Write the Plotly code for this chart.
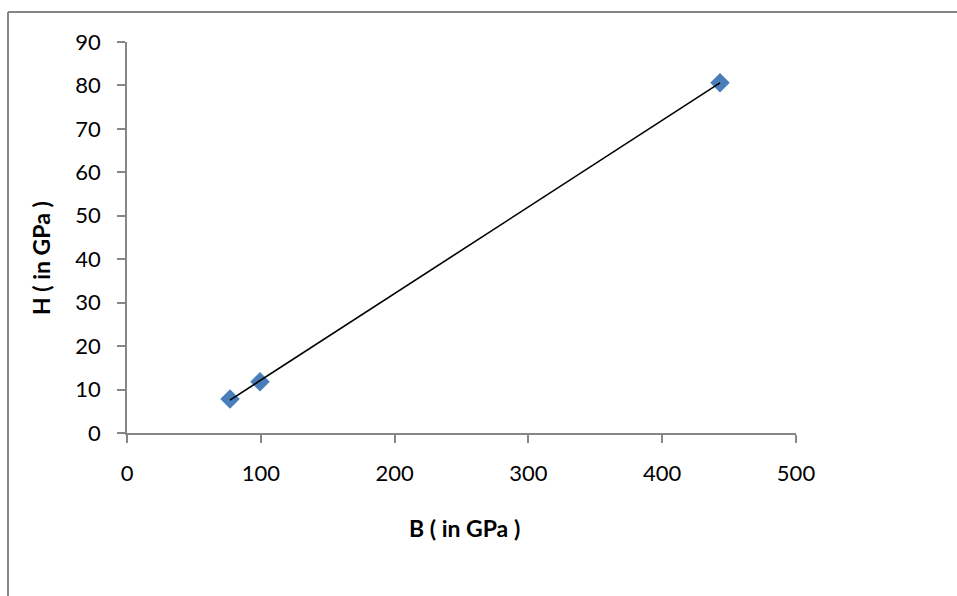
import numpy as np
import plotly.graph_objects as go

# Data
B_values = [77, 99.4, 443.2]     # B (in GPa)
H_values = [7.8, 11.8, 80.6]     # H (in GPa)

x_ticks = [0, 100, 200, 300, 400, 500]
y_ticks = [0, 10, 20, 30, 40, 50, 60, 70, 80, 90]

x_title = "B ( in GPa )"
y_title = "H ( in GPa )"

# Linear trendline over the data range
slope, intercept = np.polyfit(B_values, H_values, 1)
trend_x = [min(B_values), max(B_values)]
trend_y = [slope * v + intercept for v in trend_x]

W, H = 957, 596
L, R, T, Bm = 127, 161, 42, 163
pw, ph = W - L - R, H - T - Bm

FONT = "Lato, Open Sans, sans-serif"

fig = go.Figure()
fig.add_trace(go.Scatter(
    x=B_values, y=H_values, mode="markers",
    marker=dict(symbol="diamond", size=15, color="#4A7EBB",
                line=dict(width=0)),
    showlegend=False, hoverinfo="skip"))
fig.add_trace(go.Scatter(
    x=trend_x, y=trend_y, mode="lines",
    line=dict(color="black", width=1.6),
    showlegend=False, hoverinfo="skip"))

axis_common = dict(
    showgrid=False, zeroline=False, showline=True,
    linecolor="#868686", linewidth=1.5,
    ticks="outside", ticklen=8, tickwidth=1.5, tickcolor="#868686",
    tickfont=dict(family=FONT, size=22, color="black"),
)

fig.update_layout(
    width=W, height=H,
    margin=dict(l=L, r=R, t=T, b=Bm, autoexpand=False),
    paper_bgcolor="white", plot_bgcolor="white",
    xaxis=dict(range=[0, 500], tickvals=x_ticks, ticklabelstandoff=12,
               **axis_common),
    yaxis=dict(range=[0, 90], tickvals=y_ticks, ticklabelstandoff=12,
               **axis_common),
)

def px_x(p):
    return (p - L) / pw

def px_y(p):
    return (H - Bm - p) / ph

title_font = dict(family=FONT, size=23, color="black")
fig.add_annotation(text="<b>" + x_title + "</b>", xref="paper", yref="paper",
                   x=px_x(464), y=px_y(528), xanchor="center", yanchor="middle",
                   showarrow=False, font=title_font)
fig.add_annotation(text="<b>" + y_title + "</b>", xref="paper", yref="paper",
                   x=px_x(41), y=px_y(258), xanchor="center", yanchor="middle",
                   textangle=-90, showarrow=False, font=title_font)

# Outer frame (left and top edges visible in the reference)
fx0 = px_x(8)
fx1 = px_x(W)
fy_top = px_y(12)
fy_bot = px_y(H)
fig.add_shape(type="line", xref="paper", yref="paper",
              x0=fx0, x1=fx0, y0=fy_bot, y1=fy_top,
              line=dict(color="#868686", width=2))
fig.add_shape(type="line", xref="paper", yref="paper",
              x0=fx0, x1=fx1, y0=fy_top, y1=fy_top,
              line=dict(color="#868686", width=2))

fig.write_html("out.html")
